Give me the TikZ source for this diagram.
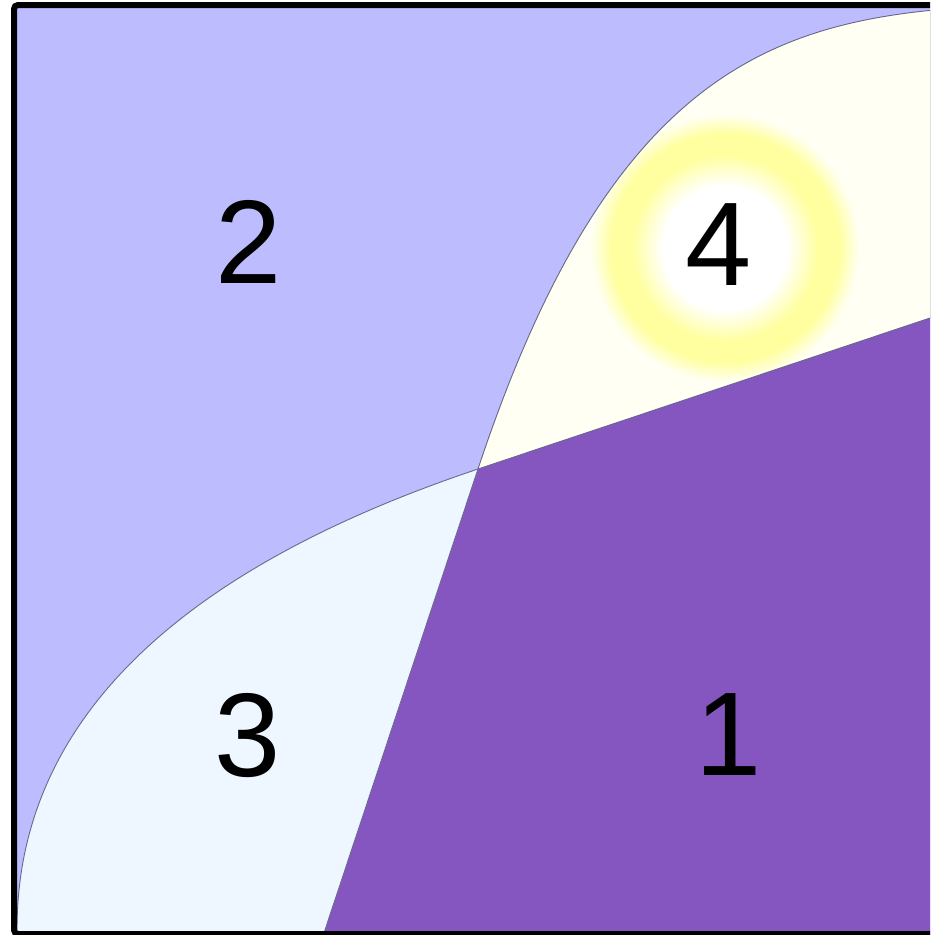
\documentclass[tikz,border=0pt]{standalone}
\usepackage{fontspec}
\setmainfont{Liberation Sans}
\definecolor{lav}{RGB}{188,188,255}
\definecolor{ivo}{RGB}{255,255,243}
\definecolor{ali}{RGB}{238,246,255}
\definecolor{purp}{RGB}{133,86,192}
\definecolor{ringy}{RGB}{255,255,160}
\definecolor{edgec}{RGB}{105,105,140}
\pgfdeclareradialshading{glowring}{\pgfpoint{0bp}{0bp}}{color(0bp)=(white); color(6.2bp)=(white); color(9.3bp)=(ringy); color(11.4bp)=(ringy); color(13.4bp)=(ivo); color(50bp)=(ivo)}
\tikzset{
  numlabel/.style={inner sep=0pt, anchor=base, font=\fontsize{119}{119}\selectfont, text=black},
  edgeline/.style={draw=edgec, line width=0.9pt},
}
\begin{document}
\begin{tikzpicture}[x=1pt,y=-1pt]
\useasboundingbox (0,0) rectangle (930,935);
\clip (0,0) rectangle (930,935);
\coordinate (O) at (478,469);
\coordinate (R) at (945,313);
\coordinate (Bt) at (320,945);
\coordinate (TA) at (945,9);
\coordinate (LA) at (17,945);
% background
\fill[lav] (14,5) rectangle (945,945);
% region 4 with glow
\begin{scope}
  \clip (O) .. controls (604,89) and (760,25) .. (TA) -- (R) -- cycle;
  \fill[shading=glowring] (475,-2) rectangle (975,498);
\end{scope}
% region 1
\fill[purp] (O) -- (R) -- (945,945) -- (Bt) -- cycle;
% region 3
\fill[ali] (O) -- (Bt) -- (LA) -- (17,930) .. controls (17,780) and (99,596) .. (O) -- cycle;
% borders
\draw[edgeline] (O) .. controls (604,89) and (760,25) .. (TA);
\draw[edgeline] (O) .. controls (99,596) and (17,780) .. (17,930) -- (LA);
\draw[edgeline] (R) -- (O) -- (Bt);
% labels
\node[numlabel] (n2) at (249,283) {2};
\node[numlabel] (n4) at (719,285) {4};
\node[numlabel] (n3) at (248,776) {3};
\node[numlabel] (n1) at (729,775) {1};
% frame
\draw[black, line width=6pt, rounded corners=4pt] (14,5) rectangle (940,934);
\end{tikzpicture}
\end{document}
